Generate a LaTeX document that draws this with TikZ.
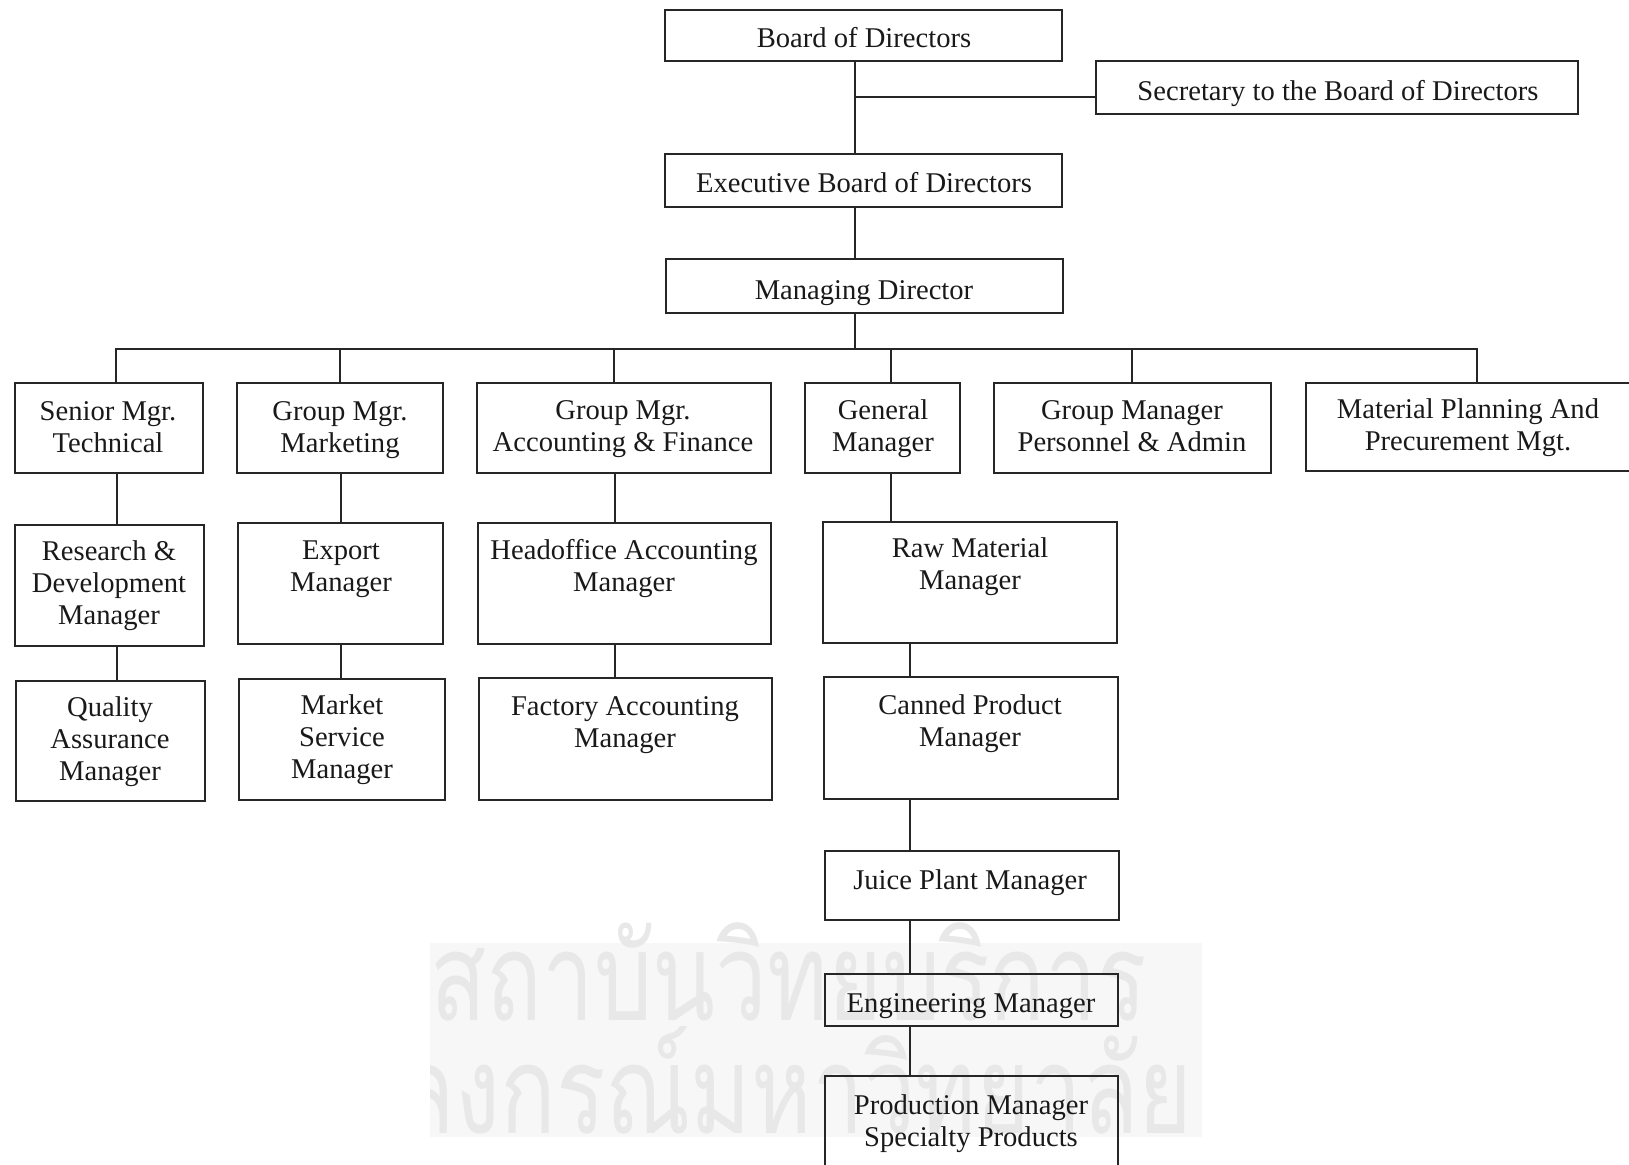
\documentclass[tikz,border=0pt]{standalone}
\usepackage{fontspec}
\setmainfont{Liberation Serif}
\newfontfamily\thaifont[Script=Thai]{Loma}
\usetikzlibrary{fit}
\begin{document}
\begin{tikzpicture}[x=0.5pt,y=-0.5pt,
  box/.style={draw=black!85, line width=0.75pt, rectangle, inner sep=0pt},
  lbl/.style={font=\fontsize{14.3}{16}\selectfont, align=center, text=black!90, inner sep=0pt},
  link/.style={draw=black!85, line width=0.7pt},
  wmark/.style={font=\thaifont\fontsize{61}{61}\selectfont, text=black!9, inner sep=0pt}]
\useasboundingbox (0,0) rectangle (1629,1165);
\clip (0,0) rectangle (1629,1165);

% faint library stamp in the background
\begin{scope}
  \clip (430,912) rectangle (1202,1137);
  \fill[black!3] (430,943) rectangle (1202,1137);
  \node[wmark, anchor=base west] (wm1) at (430,1020) {\scalebox{0.755}[1]{สถาบันวิทยบริการ}};
  \node[wmark, anchor=base east] (wm2) at (1193,1133) {\scalebox{0.755}[1]{จุฬาลงกรณ์มหาวิทยาลัย}};
\end{scope}

% ---- boxes ----
\node[box, fit={(665,10) (1062,61)}]    (bod)  {};
\node[box, fit={(1096,61) (1578,114)}]  (sec)  {};
\node[box, fit={(665,154) (1062,207)}]  (exec) {};
\node[box, fit={(666,259) (1063,313)}]  (md)   {};

\node[box, fit={(15,383) (203,473)}]    (smt) {};
\node[box, fit={(237,383) (443,473)}]   (gmm) {};
\node[box, fit={(477,383) (771,473)}]   (gma) {};
\node[box, fit={(805,383) (960,473)}]   (gm)  {};
\node[box, fit={(994,383) (1271,473)}]  (gmp) {};
\node[box, fit={(1306,383) (1634,471)}] (mpp) {};

\node[box, fit={(15,525) (204,646)}]    (rd)  {};
\node[box, fit={(238,523) (443,644)}]   (exp) {};
\node[box, fit={(478,523) (771,644)}]   (hoa) {};
\node[box, fit={(823,522) (1117,643)}]  (raw) {};

\node[box, fit={(16,681) (205,801)}]    (qa)  {};
\node[box, fit={(239,679) (445,800)}]   (msm) {};
\node[box, fit={(479,678) (772,800)}]   (fam) {};
\node[box, fit={(824,677) (1118,799)}]  (cpm) {};

\node[box, fit={(825,851) (1119,920)}]  (jpm) {};
\node[box, fit={(825,974) (1118,1026)}] (eng) {};
\node[box, fit={(825,1076) (1118,1172)}] (pms) {};

% ---- labels ----
\node[lbl] (bod-t)  at (864,41)    {Board of Directors\strut};
\node[lbl] (sec-t)  at (1338,94)   {Secretary to the Board of Directors\strut};
\node[lbl] (exec-t) at (864,186.5) {Executive Board of Directors\strut};
\node[lbl] (md-t)   at (864,293.5) {Managing Director\strut};

\node[lbl] (smt-t) at (108,430)  {Senior Mgr.\strut\\Technical\strut};
\node[lbl] (gmm-t) at (340,430)  {Group Mgr.\strut\\Marketing\strut};
\node[lbl] (gma-t) at (623,429.5) {Group Mgr.\strut\\Accounting \& Finance\strut};
\node[lbl] (gm-t)  at (883,429.5) {General\strut\\Manager\strut};
\node[lbl] (gmp-t) at (1132,429.5) {Group Manager\strut\\Personnel \& Admin\strut};
\node[lbl] (mpp-t) at (1468,428.5) {Material Planning And\strut\\Precurement Mgt.\strut};

\node[lbl] (rd-t)  at (109,586.5) {Research \&\strut\\Development\strut\\Manager\strut};
\node[lbl] (exp-t) at (341,569)   {Export\strut\\Manager\strut};
\node[lbl] (hoa-t) at (624,569)   {Headoffice Accounting\strut\\Manager\strut};
\node[lbl] (raw-t) at (970,567.5) {Raw Material\strut\\Manager\strut};

\node[lbl] (qa-t)  at (110,742.5) {Quality\strut\\Assurance\strut\\Manager\strut};
\node[lbl] (msm-t) at (342,740.5) {Market\strut\\Service\strut\\Manager\strut};
\node[lbl] (fam-t) at (625,725)   {Factory Accounting\strut\\Manager\strut};
\node[lbl] (cpm-t) at (970,724)   {Canned Product\strut\\Manager\strut};

\node[lbl] (jpm-t) at (970,883.5)  {Juice Plant Manager\strut};
\node[lbl] (eng-t) at (971,1006)   {Engineering Manager\strut};
\node[lbl] (pms-t) at (971,1124.5) {Production Manager\strut\\Specialty Products\strut};

% ---- connector positions ----
\coordinate (trunk) at (855,0);
\coordinate (secy)  at (0,97);
\coordinate (busy)  at (0,349);
\coordinate (d1) at (116,0);
\coordinate (d2) at (340,0);
\coordinate (d3) at (614,0);
\coordinate (d4) at (891,0);
\coordinate (d5) at (1132,0);
\coordinate (d6) at (1477,0);
\coordinate (v1) at (117,0);
\coordinate (v2) at (341,0);
\coordinate (v3) at (615,0);
\coordinate (v4) at (891,0);
\coordinate (v5) at (910,0);

% ---- top of the chart ----
\draw[link] (bod.south -| trunk) -- (exec.north -| trunk);
\draw[link] (trunk |- secy) -- (sec.west |- secy);
\draw[link] (exec.south -| trunk) -- (md.north -| trunk);
\draw[link] (md.south -| trunk) -- (trunk |- busy);
\foreach \c/\n in {d1/smt, d2/gmm, d3/gma, d4/gm, d5/gmp, d6/mpp}
  \draw[link] (trunk |- busy) -| (\n.north -| \c);

% ---- departmental lines ----
\draw[link] (smt.south -| v1) -- (rd.north -| v1);
\draw[link] (rd.south -| v1)  -- (qa.north -| v1);
\draw[link] (gmm.south -| v2) -- (exp.north -| v2);
\draw[link] (exp.south -| v2) -- (msm.north -| v2);
\draw[link] (gma.south -| v3) -- (hoa.north -| v3);
\draw[link] (hoa.south -| v3) -- (fam.north -| v3);
\draw[link] (gm.south -| v4)  -- (raw.north -| v4);
\draw[link] (raw.south -| v5) -- (cpm.north -| v5);
\draw[link] (cpm.south -| v5) -- (jpm.north -| v5);
\draw[link] (jpm.south -| v5) -- (eng.north -| v5);
\draw[link] (eng.south -| v5) -- (pms.north -| v5);
\end{tikzpicture}
\end{document}
